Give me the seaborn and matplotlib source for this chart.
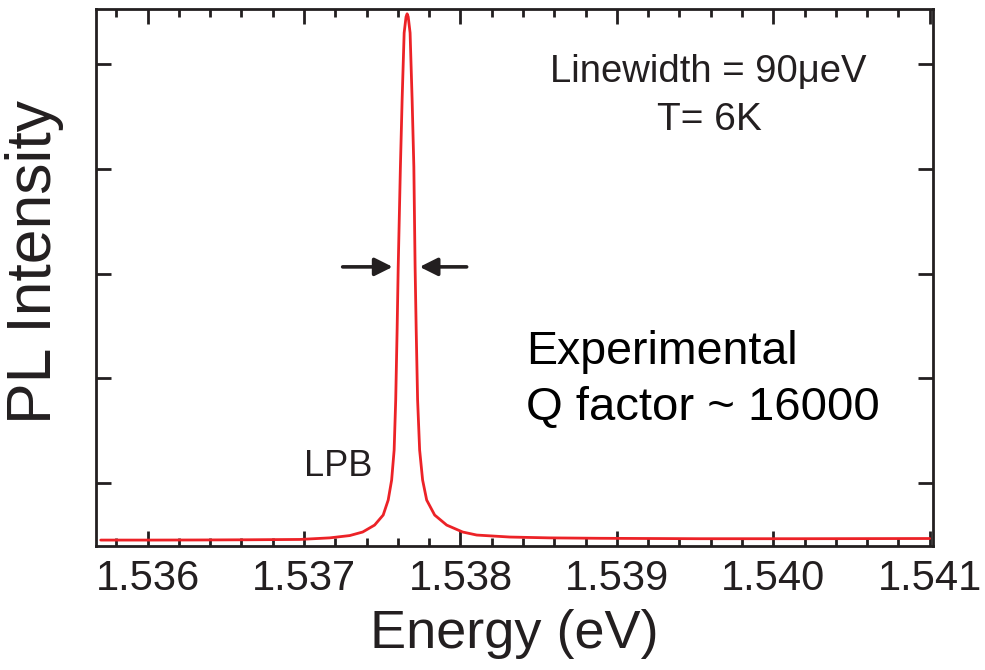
import matplotlib
matplotlib.use("Agg")
import matplotlib.pyplot as plt
import seaborn as sns
import pandas as pd
from matplotlib.ticker import MultipleLocator, NullFormatter

# ---- data (energy in eV, PL intensity in arb. units) ----
energy = [1.535700, 1.536013, 1.536333, 1.536652, 1.536972, 1.537164, 1.537292,
          1.537375, 1.537451, 1.537506, 1.537538, 1.537560, 1.537576, 1.537586,
          1.537595, 1.537602, 1.537616, 1.537627, 1.537640, 1.537652, 1.537659,
          1.537666, 1.537678, 1.537691, 1.537702, 1.537710, 1.537717, 1.537726,
          1.537739, 1.537758, 1.537784, 1.537835, 1.537912, 1.538014, 1.538104,
          1.538315, 1.538570, 1.538890, 1.539529, 1.540169, 1.541000]
intensity = [0.457, 0.457, 0.458, 0.460, 0.463, 0.478, 0.500,
             0.534, 0.600, 0.696, 0.839, 1.030, 1.316, 1.794,
             2.462, 3.064, 4.018, 4.658, 5.297, 5.450, 5.479,
             5.450, 5.297, 4.658, 4.018, 3.064, 2.462, 1.794,
             1.316, 1.030, 0.839, 0.696, 0.600, 0.534, 0.505,
             0.486, 0.478, 0.474, 0.470, 0.470, 0.472]

x_major = [1.536, 1.537, 1.538, 1.539, 1.540, 1.541]
x_labels = ["1.536", "1.537", "1.538", "1.539", "1.540", "1.541"]
y_major = [1, 2, 3, 4, 5]

df = pd.DataFrame({"Energy": energy, "PL": intensity})

sns.set_theme(style="ticks")
plt.rcParams["font.family"] = ["Liberation Sans", "DejaVu Sans"]

dark = "#231f20"
red = "#ec2227"

fig = plt.figure(figsize=(9.85, 6.70), dpi=100)
ax = fig.add_axes([0.0975, 0.185, 0.8495, 0.8016])

sns.lineplot(data=df, x="Energy", y="PL", ax=ax, color=red, linewidth=2.0,
             sort=False, estimator=None)

ax.set_xlim(1.53567, 1.54102)
ax.set_ylim(0.40, 5.525)

ax.set_xticks(x_major)
ax.set_xticklabels(x_labels)
ax.xaxis.set_minor_locator(MultipleLocator(0.0002))
ax.set_yticks(y_major)
ax.yaxis.set_major_formatter(NullFormatter())

for s in ax.spines.values():
    s.set_linewidth(2.0)
    s.set_color(dark)
    s.set_visible(True)

ax.tick_params(axis="both", which="major", direction="in", length=10.5, width=2.0,
               color=dark, top=True, right=True, labelsize=30, labelcolor=dark, pad=9)
ax.tick_params(axis="x", which="minor", direction="in", length=5.5, width=2.0,
               color=dark, top=True, bottom=True)
ax.tick_params(axis="y", which="minor", left=False, right=False)

ax.set_xlabel("Energy (eV)", fontsize=39, color=dark)
ax.xaxis.set_label_coords(0.5, -0.163)
ax.xaxis.label.set_va("center")
ax.set_ylabel("PL Intensity", fontsize=45, color=dark)
ax.yaxis.set_label_coords(-0.073, 0.529)
ax.yaxis.label.set_va("center")

# annotations
ax.text(0.732, 0.883, "Linewidth = 90\u03bceV", transform=ax.transAxes, fontsize=27.5,
        color=dark, ha="center", va="center")
ax.text(0.733, 0.793, "T= 6K", transform=ax.transAxes, fontsize=28,
        color=dark, ha="center", va="center")
ax.text(0.514, 0.362, "Experimental", transform=ax.transAxes, fontsize=33.5,
        color="black", ha="left", va="center")
ax.text(0.514, 0.258, "Q factor ~ 16000", transform=ax.transAxes, fontsize=34,
        color="black", ha="left", va="center")
ax.text(0.289, 0.149, "LPB", transform=ax.transAxes, fontsize=26,
        color=dark, ha="center", va="center")

arrow_y = 3.064
ap = dict(arrowstyle="-|>,head_length=0.9,head_width=0.45", color=dark, lw=2.6,
          shrinkA=0, shrinkB=0)
ax.annotate("", xy=(1.5375665, arrow_y), xytext=(1.5372468, arrow_y), arrowprops=ap)
ax.annotate("", xy=(1.5377391, arrow_y), xytext=(1.5380396, arrow_y), arrowprops=ap)

fig.savefig("out.png", dpi=100, facecolor="white")
